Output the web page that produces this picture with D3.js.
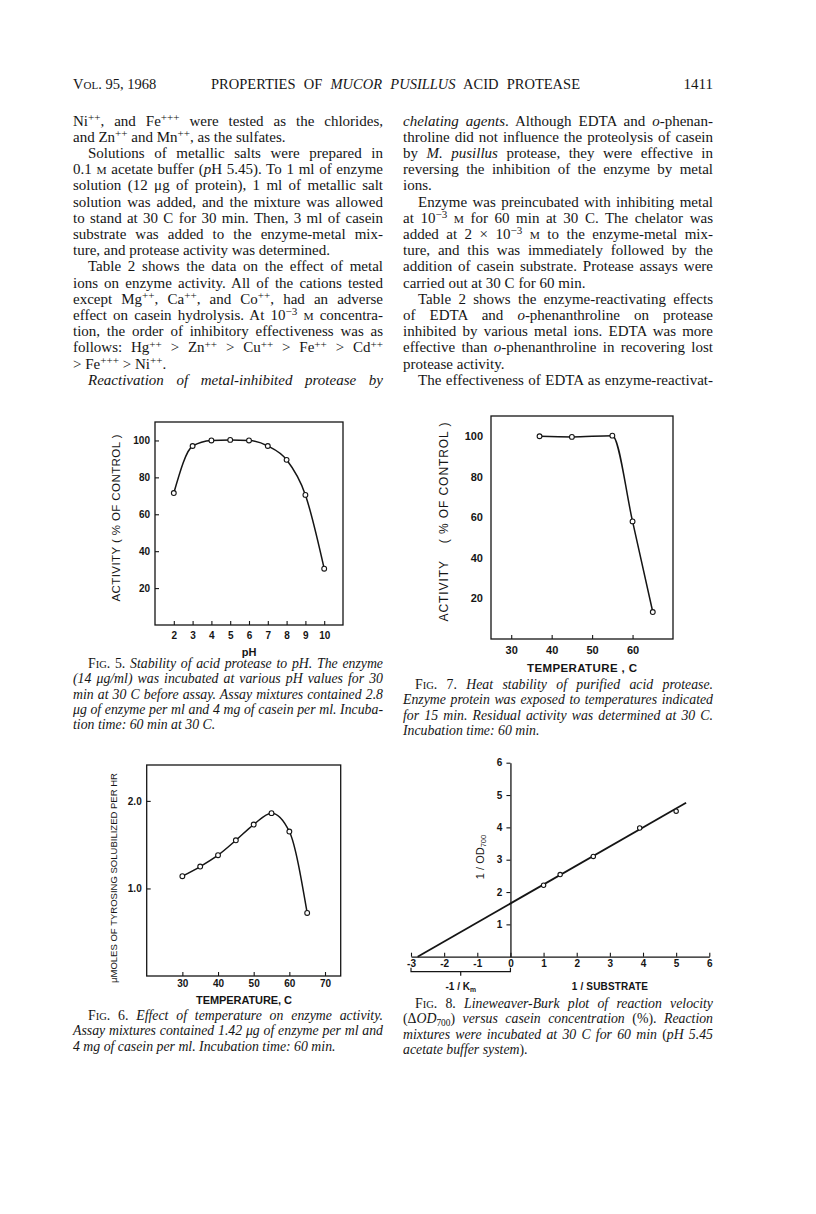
<!DOCTYPE html>
<html>
<head>
<meta charset="utf-8">
<script src="https://cdn.jsdelivr.net/npm/d3@7"></script>
<style>
body { margin: 0; background: #fff; }
svg { display: block; }
</style>
</head>
<body>
<div id="page"></div>
<script>
// Fig. 5 - stability to pH
const phValues = [2, 3, 4, 5, 6, 7, 8, 9, 10];
const phActivity = [71.5, 97, 100, 100.3, 100, 97, 89.5, 70.5, 30.5];
const phTicks = [2, 3, 4, 5, 6, 7, 8, 9, 10];
const activityTicks = [20, 40, 60, 80, 100];

// Fig. 7 - heat stability
const heatTemps = [37, 45, 55, 60, 65];
const heatActivity = [100, 99.7, 100.3, 58, 13.3];
const heatTempTicks = [30, 40, 50, 60];

// Fig. 6 - effect of temperature
const tempValues = [30, 35, 40, 45, 50, 55, 60, 65];
const tyrosine = [1.14, 1.25, 1.38, 1.55, 1.73, 1.86, 1.65, 0.72];
const tempTicks = [30, 40, 50, 60, 70];
const tyrTicks = [1.0, 2.0];

// Fig. 8 - Lineweaver-Burk
const invSubstrate = [1, 1.5, 2.5, 3.9, 5];
const invOD = [2.21, 2.54, 3.10, 3.98, 4.5];
const fitX = [-2.8, 5.3];
const fitY = [0, 4.76];
const lbXTicks = [-3, -2, -1, 0, 1, 2, 3, 4, 5, 6];
const lbYTicks = [1, 2, 3, 4, 5, 6];

// page text. markup: *italic*, ^{sup}, _{sub}, #smallcaps#,
// "~" at the start = indented, "|" at the end = not justified
const leftColumn = [
  "Ni^{++}, and Fe^{+++} were tested as the chlorides,",
  "and Zn^{++} and Mn^{++}, as the sulfates.|",
  "~Solutions of metallic salts were prepared in",
  "0.1 #M# acetate buffer (*p*H 5.45). To 1 ml of enzyme",
  "solution (12 μg of protein), 1 ml of metallic salt",
  "solution was added, and the mixture was allowed",
  "to stand at 30 C for 30 min. Then, 3 ml of casein",
  "substrate was added to the enzyme-metal mix-",
  "ture, and protease activity was determined.|",
  "~Table 2 shows the data on the effect of metal",
  "ions on enzyme activity. All of the cations tested",
  "except Mg^{++}, Ca^{++}, and Co^{++}, had an adverse",
  "effect on casein hydrolysis. At 10^{−3} #M# concentra-",
  "tion, the order of inhibitory effectiveness was as",
  "follows: Hg^{++} > Zn^{++} > Cu^{++} > Fe^{++} > Cd^{++}",
  "> Fe^{+++} > Ni^{++}.|",
  "~*Reactivation of metal-inhibited protease by*"
];
const rightColumn = [
  "*chelating agents*. Although EDTA and *o*-phenan-",
  "throline did not influence the proteolysis of casein",
  "by *M. pusillus* protease, they were effective in",
  "reversing the inhibition of the enzyme by metal",
  "ions.|",
  "~Enzyme was preincubated with inhibiting metal",
  "at 10^{−3} #M# for 60 min at 30 C. The chelator was",
  "added at 2 × 10^{−3} #M# to the enzyme-metal mix-",
  "ture, and this was immediately followed by the",
  "addition of casein substrate. Protease assays were",
  "carried out at 30 C for 60 min.|",
  "~Table 2 shows the enzyme-reactivating effects",
  "of EDTA and *o*-phenanthroline on protease",
  "inhibited by various metal ions. EDTA was more",
  "effective than *o*-phenanthroline in recovering lost",
  "protease activity.|",
  "~The effectiveness of EDTA as enzyme-reactivat-"
];
const caption5 = [
  "~F#IG#. 5. *Stability of acid protease to pH. The enzyme*",
  "*(14 μg/ml) was incubated at various pH values for 30*",
  "*min at 30 C before assay. Assay mixtures contained 2.8*",
  "*μg of enzyme per ml and 4 mg of casein per ml. Incuba-*",
  "*tion time: 60 min at 30 C.*|"
];
const caption7 = [
  "~F#IG#. 7. *Heat stability of purified acid protease.*",
  "*Enzyme protein was exposed to temperatures indicated*",
  "*for 15 min. Residual activity was determined at 30 C.*",
  "*Incubation time: 60 min.*|"
];
const caption6 = [
  "~F#IG#. 6. *Effect of temperature on enzyme activity.*",
  "*Assay mixtures contained 1.42 μg of enzyme per ml and*",
  "*4 mg of casein per ml. Incubation time: 60 min.*|"
];
const caption8 = [
  "~F#IG#. 8. *Lineweaver-Burk plot of reaction velocity*",
  "(Δ*OD*_{700}) *versus casein concentration* (%). *Reaction*",
  "*mixtures were incubated at 30 C for 60 min* (*pH 5.45*",
  "*acetate buffer system*).|"
];

const ink = "#151515";
const serif = "'Liberation Serif', 'Times New Roman', serif";
const sans = "'Liberation Sans', Arial, sans-serif";

let svg = d3.select("#page").append("svg")
  .attr("width", 816)
  .attr("height", 1214);

svg.append("rect").attr("width", 816).attr("height", 1214).attr("fill", "#fff");

// builds a text element from the little markup above
function rich(g, x, y, src, size, family) {
  let t = g.append("text")
    .attr("x", x).attr("y", y)
    .attr("font-family", family)
    .attr("font-size", size)
    .attr("fill", ink);
  let italic = false;
  let shift = 0;
  let parts = src.split(/(\^\{[^}]*\}|_\{[^}]*\}|\*|#[^#]*#)/);
  parts.forEach(function(p) {
    if (p === "") return;
    if (p === "*") { italic = !italic; return; }
    let txt = p, fs = size, target = 0;
    if (p.startsWith("^{")) { txt = p.slice(2, -1); fs = size * 0.74; target = -size * 0.3; }
    else if (p.startsWith("_{")) { txt = p.slice(2, -1); fs = size * 0.68; target = size * 0.22; }
    else if (p.startsWith("#")) { txt = p.slice(1, -1); fs = size * 0.76; }
    t.append("tspan")
      .attr("dy", target - shift)
      .attr("font-size", fs)
      .attr("font-style", italic ? "italic" : "normal")
      .text(txt);
    shift = target;
  });
  return t;
}

// stretch the word gaps so a line fills the column
function justify(t, width) {
  let natural = t.node().getComputedTextLength();
  let gaps = (t.text().trim().match(/ +/g) || []).length;
  if (gaps > 0) t.style("word-spacing", ((width - natural) / gaps) + "px");
}

function block(lines, x, y0, lead, width, size, indent) {
  lines.forEach(function(line, i) {
    let last = line.endsWith("|");
    let ind = line.startsWith("~");
    let src = line.replace(/^~/, "").replace(/\|$/, "");
    let t = rich(svg, x + (ind ? indent : 0), y0 + i * lead, src, size, serif);
    if (!last) justify(t, width - (ind ? indent : 0));
  });
}

// running head
rich(svg, 73, 89, "V#OL#. 95, 1968", 14.5, serif);
let head = rich(svg, 211, 89, "PROPERTIES OF *MUCOR PUSILLUS* ACID PROTEASE", 14.5, serif);
justify(head, 369);
svg.append("text").attr("x", 713).attr("y", 89)
  .attr("text-anchor", "end")
  .attr("font-family", serif).attr("font-size", 15).attr("fill", ink)
  .text("1411");

block(leftColumn, 73, 125.5, 16.2, 310, 15, 15);
block(rightColumn, 403, 125.5, 16.2, 310, 15, 15);
block(caption5, 73, 668, 15.3, 310, 13.8, 15);
block(caption7, 403, 689, 15.3, 310, 13.8, 12);
block(caption6, 73, 1020, 15.3, 310, 13.8, 15);
block(caption8, 403, 1008, 15.3, 310, 13.8, 12);

// helpers for the plots
function styleAxis(g, size) {
  g.selectAll("text")
    .attr("font-family", sans)
    .attr("font-size", size)
    .attr("font-weight", "bold")
    .attr("fill", ink);
  g.selectAll("line").attr("stroke", ink).attr("stroke-width", 1.1);
  g.selectAll("path.domain").attr("stroke", ink).attr("stroke-width", 1.3);
}

function frame(x, y) {
  svg.append("rect")
    .attr("x", x.range()[0]).attr("y", y.range()[1])
    .attr("width", x.range()[1] - x.range()[0])
    .attr("height", y.range()[0] - y.range()[1])
    .attr("fill", "none").attr("stroke", ink).attr("stroke-width", 1.3);
}

function label(x, y, src, size, len, rotate, weight) {
  let t = rich(svg, 0, 0, src, size, sans)
    .attr("text-anchor", "middle")
    .attr("font-weight", weight || "bold")
    .attr("transform", `translate(${x},${y})` + (rotate ? " rotate(-90)" : ""));
  if (len) t.attr("textLength", len).attr("lengthAdjust", "spacing");
  return t;
}

function curve(x, y, xs, ys, kind) {
  let pts = xs.map(function(d, i) { return [d, ys[i]]; });
  svg.append("path")
    .datum(pts)
    .attr("fill", "none").attr("stroke", ink).attr("stroke-width", 1.5)
    .attr("d", d3.line()
      .x(function(d) { return x(d[0]); })
      .y(function(d) { return y(d[1]); })
      .curve(kind));
  svg.append("g").selectAll("circle").data(pts).enter()
    .append("circle")
    .attr("cx", function(d) { return x(d[0]); })
    .attr("cy", function(d) { return y(d[1]); })
    .attr("r", 2.4)
    .attr("fill", "#fff").attr("stroke", ink).attr("stroke-width", 1.1);
}

const plain = function(d) { return String(d); };

// ---- Fig. 5 ----
let x5 = d3.scaleLinear().domain([1, 11]).range([155, 343]);
let y5 = d3.scaleLinear().domain([0, 110]).range([625, 422]);
svg.append("g").attr("transform", `translate(0,${y5.range()[0]})`)
  .call(d3.axisBottom(x5).tickValues(phTicks).tickFormat(plain).tickSizeInner(-4).tickSizeOuter(0).tickPadding(7))
  .call(function(g) { g.select(".domain").remove(); styleAxis(g, 10); });
svg.append("g").attr("transform", `translate(${x5.range()[0]},0)`)
  .call(d3.axisLeft(y5).tickValues(activityTicks).tickFormat(plain).tickSizeInner(-4).tickSizeOuter(0).tickPadding(5))
  .call(function(g) { g.select(".domain").remove(); styleAxis(g, 10); });
frame(x5, y5);
curve(x5, y5, phValues, phActivity, d3.curveMonotoneX);
label(120, 518, "ACTIVITY ( % OF CONTROL )", 11.5, 167, true, "normal");
label(249, 656, "pH", 11);

// ---- Fig. 7 ----
let x7 = d3.scaleLinear().domain([25, 70]).range([491, 673]);
let y7 = d3.scaleLinear().domain([0, 110]).range([639, 416]);
svg.append("g").attr("transform", `translate(0,${y7.range()[0]})`)
  .call(d3.axisBottom(x7).tickValues(heatTempTicks).tickFormat(plain).tickSizeInner(-4).tickSizeOuter(0).tickPadding(7))
  .call(function(g) { g.select(".domain").remove(); styleAxis(g, 11); });
svg.append("g").attr("transform", `translate(${x7.range()[0]},0)`)
  .call(d3.axisLeft(y7).tickValues(activityTicks).tickFormat(plain).tickSizeInner(0).tickSizeOuter(0).tickPadding(8))
  .call(function(g) { g.select(".domain").remove(); styleAxis(g, 11); });
frame(x7, y7);
curve(x7, y7, heatTemps, heatActivity, d3.curveMonotoneX);
label(448, 522, "ACTIVITY    ( % OF CONTROL )", 12, 199, true, "normal").style("white-space", "pre");
label(582, 672, "TEMPERATURE , C", 11.5, 110).style("white-space", "pre");

// ---- Fig. 6 ----
let x6 = d3.scaleLinear().domain([20, 74.4]).range([146.7, 340.7]);
let y6 = d3.scaleLinear().domain([0, 2.41]).range([976, 765]);
svg.append("g").attr("transform", `translate(0,${y6.range()[0]})`)
  .call(d3.axisBottom(x6).tickValues(tempTicks).tickFormat(plain).tickSizeInner(-4).tickSizeOuter(0).tickPadding(4))
  .call(function(g) { g.select(".domain").remove(); styleAxis(g, 10); });
svg.append("g").attr("transform", `translate(${x6.range()[0]},0)`)
  .call(d3.axisLeft(y6).tickValues(tyrTicks).tickFormat(d3.format(".1f")).tickSizeInner(-4).tickSizeOuter(0).tickPadding(5))
  .call(function(g) { g.select(".domain").remove(); styleAxis(g, 10); });
frame(x6, y6);
curve(x6, y6, tempValues, tyrosine, d3.curveMonotoneX);
label(117, 878, "μMOLES OF TYROSING SOLUBILIZED PER HR", 9.5, 210, true, "normal");
label(244, 1004, "TEMPERATURE, C", 11, 96);

// ---- Fig. 8 ----
let x8 = d3.scaleLinear().domain([-3, 6]).range([411, 709.3]);
let y8 = d3.scaleLinear().domain([0, 6]).range([956.7, 762.7]);
svg.append("g").attr("transform", `translate(0,${y8(0)})`)
  .call(d3.axisBottom(x8).tickValues(lbXTicks).tickFormat(plain).tickSizeInner(-4).tickSizeOuter(0).tickPadding(3))
  .call(function(g) { styleAxis(g, 10); });
svg.append("g").attr("transform", `translate(${x8(0)},0)`)
  .call(d3.axisLeft(y8).tickValues(lbYTicks).tickFormat(plain).tickSize(4).tickSizeOuter(0).tickPadding(4))
  .call(function(g) { styleAxis(g, 10); });
svg.append("path")
  .attr("fill", "none").attr("stroke", ink).attr("stroke-width", 1.8)
  .attr("d", d3.line()([[x8(fitX[0]), y8(fitY[0])], [x8(fitX[1]), y8(fitY[1])]]));
svg.append("g").selectAll("circle").data(invSubstrate).enter()
  .append("circle")
  .attr("cx", function(d) { return x8(d); })
  .attr("cy", function(d, i) { return y8(invOD[i]); })
  .attr("r", 2.2)
  .attr("fill", "#fff").attr("stroke", ink).attr("stroke-width", 1.1);
// bracket marking -1/Km
let by = y8(0) + 15;
svg.append("path")
  .attr("fill", "none").attr("stroke", ink).attr("stroke-width", 1.2)
  .attr("d", `M${x8(-3)},${by - 4}V${by}H${x8(0)}V${by - 4}M${x8(-1.5)},${by}V${by + 4}`);
label(x8(-1.5), 990, "-1 / K_{m}", 10);
label(x8(3), 990, "1 / SUBSTRATE", 10, 76);
label(484, 857, "1 / OD_{700}", 11, null, true, "normal");
</script>
</body>
</html>
